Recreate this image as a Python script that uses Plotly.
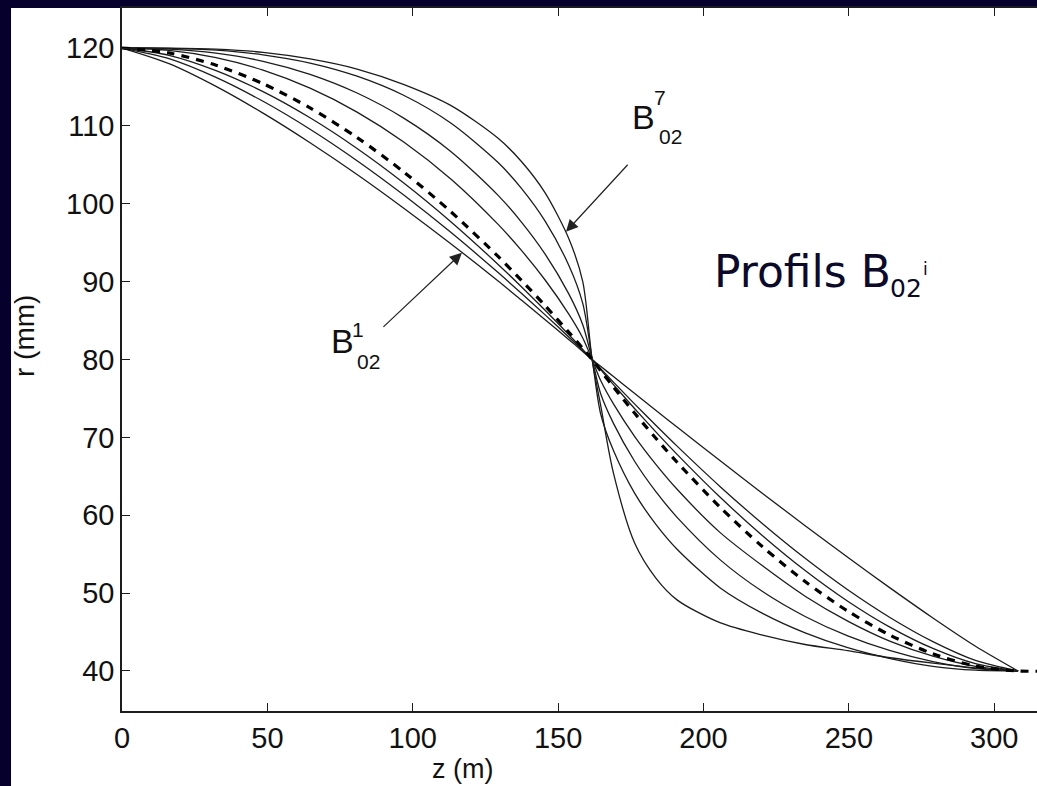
import plotly.graph_objects as go

# Axial position (m) shared by every profile
z = [0, 16.17, 32.34, 48.51, 64.68, 80.85, 97.02, 113.19, 129.36, 137.45, 145.53, 153.62,
     158.47, 161.7, 164.63, 169.03, 176.35, 183.68, 191.0, 205.65, 220.3, 234.95, 249.6,
     264.25, 278.9, 293.55, 308.2]

# Radius profiles r(z) in mm, B02^1 (gentlest) ... B02^7 (steepest)
r_b1 = [120, 118.0, 115.08, 111.64, 107.84, 103.76, 99.4, 94.84, 90.08, 87.6, 85.12, 82.58,
        81.04, 80, 79.12, 77.81, 75.62, 73.45, 71.3, 67.02, 62.8, 58.66, 54.6, 50.64, 46.81,
        43.18, 40]
r_b2 = [120, 118.64, 116.23, 113.16, 109.57, 105.53, 101.09, 96.3, 91.16, 88.48, 85.73, 82.9,
        81.17, 80, 78.83, 77.1, 74.27, 71.52, 68.84, 63.7, 58.91, 54.47, 50.43, 46.84, 43.77,
        41.36, 40]
r_b3 = [120, 119.07, 117.11, 114.4, 111.04, 107.1, 102.63, 97.66, 92.21, 89.32, 86.32, 83.22,
        81.3, 80, 78.7, 76.78, 73.68, 70.68, 67.79, 62.34, 57.37, 52.9, 48.96, 45.6, 42.89,
        40.93, 40]
r_b4 = [120, 119.7, 118.77, 117.16, 114.84, 111.77, 107.9, 103.15, 97.35, 93.98, 90.21, 85.86,
        82.77, 80, 77.3, 74.3, 70.1, 66.5, 63.3, 57.8, 53.5, 49.6, 46.4, 43.8, 41.9, 40.6, 40]
r_b5 = [120, 119.87, 119.34, 118.3, 116.62, 114.22, 110.97, 106.69, 101.08, 97.62, 93.54,
        88.46, 84.47, 80, 75.6, 71.8, 66.9, 63.0, 59.7, 54.3, 50.2, 47.0, 44.5, 42.6, 41.2,
        40.3, 40]
r_b6 = [120, 119.96, 119.72, 119.13, 118.07, 116.38, 113.9, 110.34, 105.29, 101.95, 97.77,
        92.13, 87.2, 80, 73.0, 68.3, 62.8, 58.8, 55.6, 50.7, 47.4, 44.9, 43.0, 41.6, 40.6,
        40.1, 40]
r_b7 = [120, 119.98, 119.85, 119.45, 118.6, 117.3, 115.3, 112.6, 108.4, 105.4, 101.4,
        95.56, 90.01, 80, 74.1, 65.4, 56.4, 51.9, 49.1, 46.2, 44.6, 43.4, 42.6, 41.7, 41.0,
        40.4, 40]

# Reference profile (dashed), continues flat past the outlet
z_ref = z + [320]
r_ref = [120, 119.37, 117.79, 115.42, 112.31, 108.51, 104.05, 98.95, 93.23, 90.14, 86.91,
         83.53, 81.43, 80, 78.57, 76.47, 73.09, 69.86, 66.77, 61.05, 55.95, 51.49, 47.69,
         44.58, 42.21, 40.63, 40, 40]

x_ticks = [0, 50, 100, 150, 200, 250, 300]
y_ticks = [40, 50, 60, 70, 80, 90, 100, 110, 120]

NAVY = "#06002c"
INK = "#1c1c1c"
SANS = "Liberation Sans, Arial, sans-serif"
CAPTION = "DejaVu Sans, Verdana, sans-serif"
TICK_FONT = dict(family=SANS, size=29, color="#111111")

fig = go.Figure()

for r in [r_b1, r_b2, r_b3, r_b4, r_b5, r_b6, r_b7]:
    fig.add_trace(go.Scatter(x=z, y=r, mode="lines",
                             line=dict(color=INK, width=1.3, shape="spline", smoothing=0.8),
                             hoverinfo="skip", showlegend=False))

fig.add_trace(go.Scatter(x=z_ref, y=r_ref, mode="lines",
                         line=dict(color="#000000", width=3.2, dash="8px,7px",
                                   shape="spline", smoothing=0.8),
                         hoverinfo="skip", showlegend=False))

# Navy frame: thin band on the left and along the top of the page
fig.add_shape(type="rect", xref="paper", yref="paper", x0=-0.14, x1=-0.1213, y0=-0.12, y1=1.05,
              fillcolor=NAVY, line=dict(width=0), layer="below")
fig.add_shape(type="rect", xref="paper", yref="paper", x0=-0.14, x1=1.05, y0=1.0, y1=1.05,
              fillcolor=NAVY, line=dict(width=0), layer="below")

lbl = dict(family=SANS, color="#111111")
ink_cap = "#0b0a2a"
annotations = [
    # arrows to B02^1 and B02^7
    dict(x=116.9, y=93.7, ax=89.4, ay=84.0, xref="x", yref="y", axref="x", ayref="y",
         text="", showarrow=True, arrowhead=2, arrowsize=2.0, arrowwidth=1.2, arrowcolor="#222"),
    dict(x=152.7, y=96.4, ax=174.4, ay=105.2, xref="x", yref="y", axref="x", ayref="y",
         text="", showarrow=True, arrowhead=2, arrowsize=2.0, arrowwidth=1.2, arrowcolor="#222"),
    # B02^1 label
    dict(x=75.8, y=82.4, text="B", font=dict(size=34, **lbl), showarrow=False),
    dict(x=81.3, y=83.8, text="1", font=dict(size=21, **lbl), showarrow=False),
    dict(x=84.7, y=79.8, text="02", font=dict(size=21, **lbl), showarrow=False),
    # B02^7 label
    dict(x=179.5, y=111.1, text="B", font=dict(size=34, **lbl), showarrow=False),
    dict(x=185.2, y=113.6, text="7", font=dict(size=21, **lbl), showarrow=False),
    dict(x=188.5, y=108.6, text="02", font=dict(size=21, **lbl), showarrow=False),
    # caption "Profils B02^i"
    dict(x=202.9, y=91.24, xanchor="left", text="Profils B",
         font=dict(family=CAPTION, size=44, color=ink_cap), showarrow=False),
    dict(x=269.6, y=89.12, text="02",
         font=dict(family=CAPTION, size=25, color=ink_cap), showarrow=False),
    dict(x=276.4, y=91.62, text="i",
         font=dict(family=CAPTION, size=17, color=ink_cap), showarrow=False),
    # axis titles
    dict(x=0.3716, y=-0.083, xref="paper", yref="paper", xanchor="center", yanchor="middle",
         text="z (m)", font=dict(size=27, **lbl), showarrow=False),
    dict(x=-0.1071, y=0.5334, xref="paper", yref="paper", xanchor="center", yanchor="middle",
         text="r (mm)", textangle=-90, font=dict(size=28, **lbl), showarrow=False),
]

fig.update_layout(
    width=1037, height=786,
    margin=dict(l=122, r=0, t=8, b=75),
    paper_bgcolor="white", plot_bgcolor="white",
    annotations=annotations,
    xaxis=dict(range=[0, 314.7], tickvals=x_ticks, ticks="inside", ticklen=8, tickwidth=1.3,
               tickcolor=INK, showline=True, linecolor=INK, linewidth=1.5, mirror="ticks",
               showgrid=False, zeroline=False, tickfont=TICK_FONT),
    yaxis=dict(range=[34.86, 125.14], tickvals=y_ticks, ticks="inside", ticklen=8, tickwidth=1.3,
               tickcolor=INK, showline=True, linecolor=INK, linewidth=1.5, mirror=False,
               showgrid=False, zeroline=False, tickfont=TICK_FONT),
)

fig.write_html("out.html")
